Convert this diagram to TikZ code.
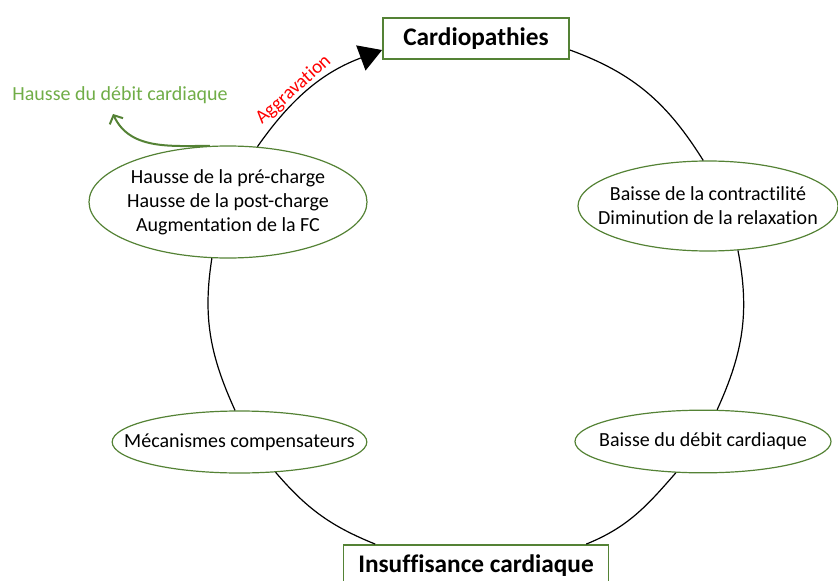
\documentclass[tikz,border=0pt]{standalone}
\usepackage{fontspec}
\setmainfont{Carlito}[Ligatures=NoCommon]
\usepackage{tikz}
\usetikzlibrary{arrows.meta,shapes.geometric}

\definecolor{cadre}{RGB}{84,130,53}
\definecolor{vertclair}{RGB}{112,173,71}

\begin{document}
\begin{tikzpicture}[x=0.75pt,y=0.75pt,
        etat/.style={ellipse,draw=cadre,line width=0.9pt,align=center,inner ysep=0pt,
            font=\fontsize{15}{18}\selectfont},
        titre/.style={rectangle,draw=cadre,line width=1.4pt,minimum width=#1,
            minimum height=30.75pt,inner sep=0pt,font=\fontsize{19}{22}\selectfont\bfseries},
        arc/.style={line width=0.9pt}]
        \useasboundingbox (0,0) rectangle (838,-581);

        \node[titre=139.5pt] (cardio) at (476,-38.5) {Cardiopathies};
        \node[titre=198.75pt] (ic) at (476,-565.5) {Insuffisance cardiaque};
        \node[etat, minimum width=208.5pt, minimum height=84pt, inner xsep=-2.3pt] (hausse) at (228,-202)
            {Hausse de la pré-charge\\Hausse de la post-charge\\Augmentation de la FC};
        \node[etat, minimum width=195pt, minimum height=67.5pt, inner xsep=-13.5pt] (contr) at (708,-206)
            {Baisse de la contractilité\\Diminution de la relaxation};
        \node[etat, minimum width=192pt, minimum height=47pt, inner xsep=-10pt] (baisse) at (703,-441.5)
            {Baisse du débit cardiaque};
        \node[etat, minimum width=191pt, minimum height=46.5pt, inner xsep=-19.4pt] (meca) at (239.5,-442)
            {Mécanismes compensateurs};
        \node[text=vertclair, font=\fontsize{15}{18}\selectfont] (hdc) at (120,-95) {Hausse du débit cardiaque};
        \coordinate (hdcfin) at (113,-114);

        \path[arc] (cardio.-7) edge[out=-20, in=122] (contr.96);
        \path[arc] (contr.-56.6) edge[out=-79, in=65.5] (baisse.66);
        \path[arc] (baisse.229.4) edge[out=-131, in=22] (ic.11.7);
        \path[arc] (ic.168.3) edge[out=158, in=-49.4] (meca.-40);
        \path[arc] (meca.98) edge[out=114.5, in=261] (hausse.254.7);
        \path[arc, -{Triangle[length=17pt,width=20pt]}] (hausse.62) edge[out=55, in=200.5]
            node[pos=0.4, sloped, above, inner sep=0.5pt, text=red, font=\fontsize{14.5}{16}\selectfont] {Aggravation} (cardio.187.7);
        \path[cadre, line width=1.5pt, -{Straight Barb[length=5pt,width=11pt]}] (hausse.108)
            edge[out=180, in=-65] (hdcfin);
      \end{tikzpicture}
\end{document}
